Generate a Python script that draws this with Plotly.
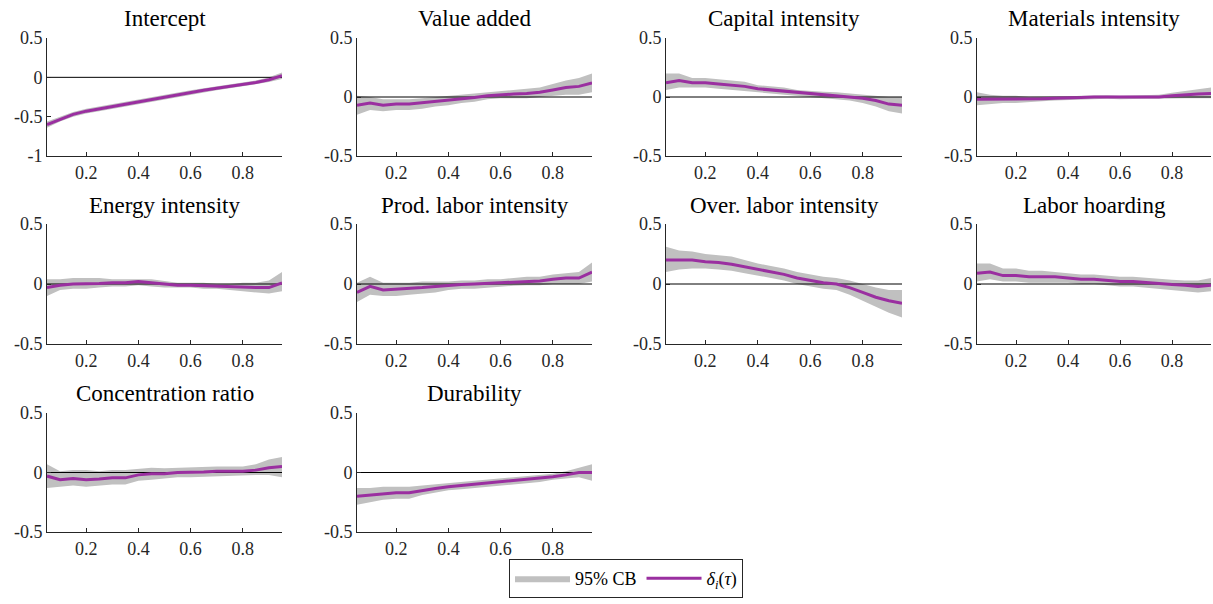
import plotly.graph_objects as go

tau = [0.05, 0.10, 0.15, 0.20, 0.25, 0.30, 0.35, 0.40, 0.45, 0.50,
       0.55, 0.60, 0.65, 0.70, 0.75, 0.80, 0.85, 0.90, 0.95]

titles = ["Intercept", "Value added", "Capital intensity", "Materials intensity",
          "Energy intensity", "Prod. labor intensity", "Over. labor intensity", "Labor hoarding",
          "Concentration ratio", "Durability"]

intercept = [-0.60, -0.53, -0.47, -0.43, -0.40, -0.37, -0.34, -0.31, -0.28, -0.25,
             -0.22, -0.19, -0.165, -0.14, -0.115, -0.09, -0.065, -0.03, 0.02]
intercept_lo = [-0.64, -0.56, -0.50, -0.46, -0.43, -0.40, -0.37, -0.34, -0.31, -0.28,
                -0.25, -0.22, -0.19, -0.165, -0.14, -0.115, -0.09, -0.06, -0.02]
intercept_hi = [-0.56, -0.50, -0.44, -0.40, -0.37, -0.34, -0.31, -0.28, -0.25, -0.22,
                -0.19, -0.165, -0.14, -0.115, -0.09, -0.065, -0.04, 0.00, 0.06]

value_added = [-0.07, -0.05, -0.07, -0.06, -0.06, -0.05, -0.04, -0.03, -0.015, -0.005,
               0.01, 0.02, 0.025, 0.03, 0.04, 0.06, 0.08, 0.09, 0.12]
value_added_lo = [-0.15, -0.11, -0.12, -0.11, -0.11, -0.10, -0.08, -0.07, -0.05, -0.04,
                  -0.02, -0.01, -0.01, -0.01, 0.00, 0.01, 0.02, 0.02, 0.04]
value_added_hi = [0.01, 0.00, -0.02, -0.02, -0.02, -0.01, 0.00, 0.01, 0.02, 0.03,
                  0.04, 0.05, 0.06, 0.07, 0.08, 0.11, 0.14, 0.16, 0.20]

capital = [0.12, 0.14, 0.12, 0.12, 0.11, 0.10, 0.09, 0.07, 0.06, 0.05,
           0.035, 0.025, 0.02, 0.01, 0.00, -0.01, -0.03, -0.06, -0.07]
capital_lo = [0.06, 0.08, 0.08, 0.08, 0.07, 0.06, 0.05, 0.04, 0.03, 0.02,
              0.01, 0.00, -0.01, -0.02, -0.03, -0.05, -0.08, -0.12, -0.14]
capital_hi = [0.20, 0.20, 0.16, 0.16, 0.15, 0.14, 0.13, 0.10, 0.09, 0.08,
              0.06, 0.05, 0.045, 0.04, 0.03, 0.02, 0.01, 0.00, 0.00]

materials = [-0.02, -0.02, -0.02, -0.02, -0.02, -0.015, -0.01, -0.01, -0.005, 0.00,
             0.00, -0.005, 0.00, 0.00, 0.00, 0.01, 0.02, 0.025, 0.03]
materials_lo = [-0.07, -0.06, -0.05, -0.05, -0.04, -0.035, -0.03, -0.025, -0.02, -0.015,
                -0.015, -0.02, -0.015, -0.015, -0.015, -0.01, -0.01, -0.01, -0.01]
materials_hi = [0.04, 0.02, 0.01, 0.01, 0.00, 0.00, 0.005, 0.005, 0.01, 0.015,
                0.015, 0.01, 0.015, 0.015, 0.02, 0.035, 0.05, 0.06, 0.08]

energy = [-0.03, -0.01, 0.00, 0.00, 0.005, 0.01, 0.01, 0.02, 0.01, 0.00,
          -0.01, -0.01, -0.015, -0.02, -0.02, -0.025, -0.03, -0.03, 0.01]
energy_lo = [-0.10, -0.05, -0.04, -0.04, -0.03, -0.02, -0.02, -0.01, -0.02, -0.03,
             -0.03, -0.03, -0.04, -0.04, -0.05, -0.06, -0.07, -0.08, -0.06]
energy_hi = [0.04, 0.04, 0.05, 0.05, 0.05, 0.04, 0.04, 0.04, 0.04, 0.025,
             0.01, 0.01, 0.01, 0.00, 0.00, 0.01, 0.01, 0.03, 0.10]

prod_labor = [-0.07, -0.02, -0.05, -0.045, -0.04, -0.03, -0.02, -0.01, -0.005, 0.00,
              0.005, 0.01, 0.015, 0.025, 0.025, 0.04, 0.05, 0.05, 0.10]
prod_labor_lo = [-0.15, -0.09, -0.10, -0.10, -0.09, -0.08, -0.07, -0.05, -0.04, -0.04,
                 -0.03, -0.02, -0.015, -0.01, -0.01, 0.00, 0.00, 0.00, 0.02]
prod_labor_hi = [0.01, 0.06, 0.01, 0.01, 0.01, 0.02, 0.02, 0.02, 0.03, 0.03,
                 0.04, 0.04, 0.05, 0.06, 0.06, 0.08, 0.09, 0.10, 0.18]

over_labor = [0.20, 0.20, 0.20, 0.185, 0.18, 0.165, 0.145, 0.12, 0.10, 0.08,
              0.05, 0.03, 0.01, 0.00, -0.03, -0.07, -0.11, -0.14, -0.16]
over_labor_lo = [0.10, 0.12, 0.13, 0.13, 0.12, 0.11, 0.09, 0.07, 0.05, 0.03,
                 0.00, -0.02, -0.04, -0.05, -0.09, -0.14, -0.19, -0.24, -0.28]
over_labor_hi = [0.31, 0.28, 0.27, 0.25, 0.24, 0.23, 0.20, 0.17, 0.15, 0.13,
                 0.10, 0.08, 0.06, 0.05, 0.03, 0.00, -0.03, -0.05, -0.05]

hoarding = [0.09, 0.10, 0.07, 0.07, 0.06, 0.06, 0.06, 0.05, 0.04, 0.04,
            0.03, 0.02, 0.02, 0.01, 0.00, -0.005, -0.01, -0.02, -0.01]
hoarding_lo = [0.02, 0.04, 0.02, 0.02, 0.01, 0.01, 0.01, 0.01, 0.00, 0.00,
               -0.01, -0.02, -0.02, -0.03, -0.04, -0.05, -0.06, -0.07, -0.06]
hoarding_hi = [0.17, 0.17, 0.13, 0.13, 0.11, 0.11, 0.10, 0.09, 0.08, 0.08,
               0.07, 0.06, 0.06, 0.05, 0.04, 0.035, 0.03, 0.03, 0.05]

concentration = [-0.03, -0.06, -0.05, -0.06, -0.055, -0.045, -0.045, -0.02, -0.01, -0.01,
                 0.00, 0.00, 0.005, 0.01, 0.01, 0.01, 0.02, 0.04, 0.05]
concentration_lo = [-0.13, -0.12, -0.11, -0.12, -0.11, -0.10, -0.10, -0.07, -0.06, -0.05,
                    -0.04, -0.04, -0.035, -0.03, -0.03, -0.02, -0.02, -0.02, -0.04]
concentration_hi = [0.07, 0.01, 0.02, 0.02, 0.01, 0.02, 0.02, 0.03, 0.04, 0.035,
                    0.04, 0.04, 0.045, 0.05, 0.05, 0.05, 0.07, 0.11, 0.13]

durability = [-0.20, -0.19, -0.18, -0.17, -0.17, -0.15, -0.135, -0.12, -0.11, -0.10,
              -0.09, -0.08, -0.07, -0.06, -0.05, -0.035, -0.02, 0.00, 0.00]
durability_lo = [-0.27, -0.25, -0.23, -0.22, -0.22, -0.19, -0.17, -0.15, -0.14, -0.13,
                 -0.12, -0.11, -0.10, -0.09, -0.08, -0.06, -0.05, -0.04, -0.07]
durability_hi = [-0.13, -0.13, -0.12, -0.12, -0.12, -0.11, -0.10, -0.09, -0.08, -0.07,
                 -0.06, -0.05, -0.04, -0.035, -0.02, -0.01, 0.01, 0.04, 0.07]

series = [
    (intercept, intercept_lo, intercept_hi),
    (value_added, value_added_lo, value_added_hi),
    (capital, capital_lo, capital_hi),
    (materials, materials_lo, materials_hi),
    (energy, energy_lo, energy_hi),
    (prod_labor, prod_labor_lo, prod_labor_hi),
    (over_labor, over_labor_lo, over_labor_hi),
    (hoarding, hoarding_lo, hoarding_hi),
    (concentration, concentration_lo, concentration_hi),
    (durability, durability_lo, durability_hi),
]

W, H = 1213, 604
col_px = [(47, 282), (357, 592), (666, 902), (977, 1211)]
row_px = [(38, 156), (224, 344), (413, 532)]
title_y_px = [18, 205, 393]

PURPLE = "#9A2FA0"
BAND = "#C0C0C0"
AX = "#262626"
FONT = "Liberation Serif, Times New Roman, DejaVu Serif, serif"


def fx(px):
    return px / W


def fy(py):
    return 1 - py / H


fig = go.Figure()
layout = dict(
    width=W, height=H, margin=dict(l=0, r=0, t=0, b=0, pad=0, autoexpand=False),
    paper_bgcolor="white", plot_bgcolor="white",
    font=dict(family=FONT, size=18, color=AX),
    showlegend=True,
    legend=dict(orientation="h", x=fx(626), xanchor="center", y=fy(598), yanchor="bottom",
                bordercolor=AX, borderwidth=1, bgcolor="white", traceorder="normal",
                itemwidth=55, font=dict(family=FONT, size=18, color="black")),
)
annotations = []

for i, (mid, lo, hi) in enumerate(series):
    r, c = divmod(i, 4)
    idx = "" if i == 0 else str(i + 1)
    xa, ya = "x" + idx, "y" + idx
    x0, x1 = col_px[c]
    y0, y1 = row_px[r]
    if i == 0:
        yr = [-1, 0.5]
        tv = [-1, -0.5, 0, 0.5]
        tt = ["-1", "-0.5", "0", "0.5"]
    else:
        yr = [-0.5, 0.5]
        tv = [-0.5, 0, 0.5]
        tt = ["-0.5", "0", "0.5"]
    fig.add_trace(go.Scatter(x=tau, y=lo, mode="lines", line=dict(width=0, color=BAND),
                             hoverinfo="skip", showlegend=False, xaxis=xa, yaxis=ya))
    fig.add_trace(go.Scatter(x=tau, y=hi, mode="lines", line=dict(width=0, color=BAND),
                             fill="tonexty", fillcolor=BAND, name="95% CB",
                             showlegend=(i == 0), xaxis=xa, yaxis=ya))
    fig.add_trace(go.Scatter(x=[tau[0], tau[-1]], y=[0, 0], mode="lines",
                             line=dict(width=1, color="black"), hoverinfo="skip",
                             showlegend=False, xaxis=xa, yaxis=ya))
    fig.add_trace(go.Scatter(x=tau, y=mid, mode="lines", line=dict(width=3, color=PURPLE),
                             name="<i>δ</i><sub><i>i</i></sub>(<i>τ</i>)",
                             showlegend=(i == 0), xaxis=xa, yaxis=ya))
    axn = "" if i == 0 else str(i + 1)
    layout["xaxis" + axn] = dict(
        domain=[fx(x0), fx(x1)], anchor=ya, range=[0.05, 0.95],
        tickvals=[0.2, 0.4, 0.6, 0.8], ticktext=["0.2", "0.4", "0.6", "0.8"],
        ticks="inside", ticklen=4, tickcolor=AX, showline=True, linecolor=AX, linewidth=1,
        showgrid=False, zeroline=False, tickfont=dict(family=FONT, size=18, color=AX),
        fixedrange=True, automargin=False,
    )
    layout["yaxis" + axn] = dict(
        domain=[fy(y1), fy(y0)], anchor=xa, range=yr,
        tickvals=tv, ticktext=tt,
        ticks="inside", ticklen=4, tickcolor=AX, showline=True, linecolor=AX, linewidth=1,
        showgrid=False, zeroline=False, tickfont=dict(family=FONT, size=18, color=AX),
        fixedrange=True, automargin=False,
    )
    annotations.append(dict(text=titles[i], xref="paper", yref="paper",
                            x=fx((x0 + x1) / 2), y=fy(title_y_px[r]),
                            xanchor="center", yanchor="middle", showarrow=False,
                            font=dict(family=FONT, size=23, color="black")))

layout["annotations"] = annotations
fig.update_layout(**layout)
fig.write_html("out.html", config={"displayModeBar": False},
               post_script="document.body.style.margin='0';")
